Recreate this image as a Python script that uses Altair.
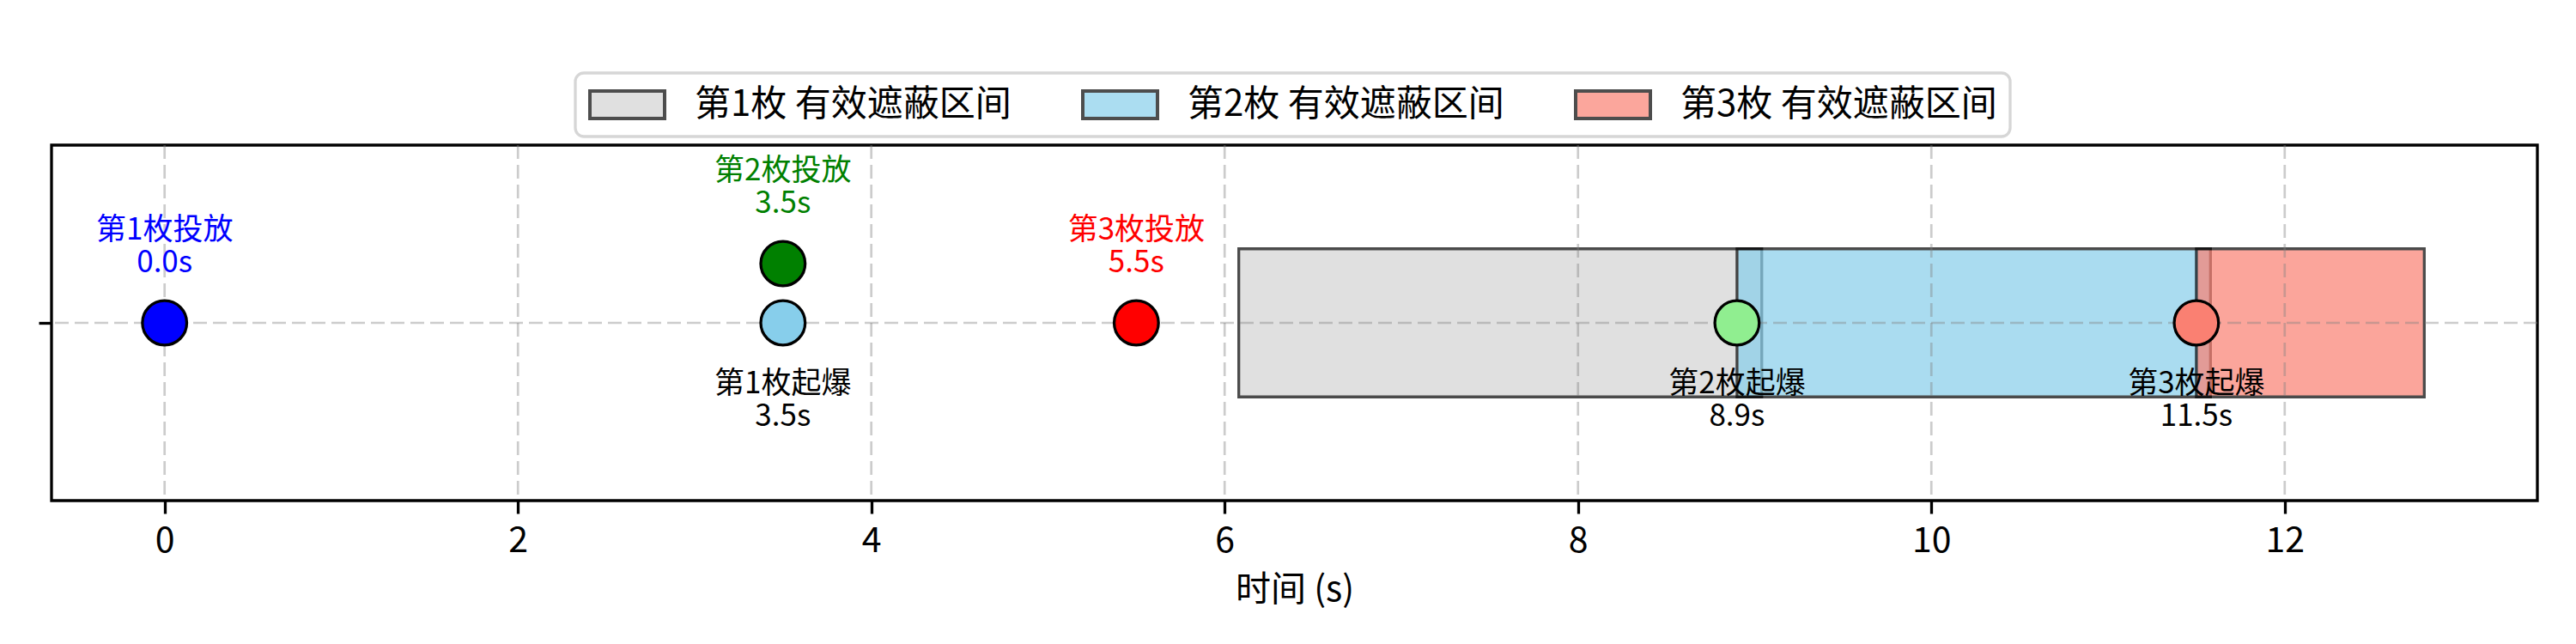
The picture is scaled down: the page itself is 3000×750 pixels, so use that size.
import altair as alt
import pandas as pd

FONT = "Noto Sans CJK SC"

# ---- data ----
bomb_names = ["第1枚", "第2枚", "第3枚"]
release_times = [0.0, 3.5, 5.5]
release_levels = [0.0, 0.2, 0.0]
release_colors = ["blue", "green", "red"]
detonate_times = [3.5, 8.9, 11.5]
detonate_levels = [0.0, 0.0, 0.0]
detonate_colors = ["skyblue", "lightgreen", "salmon"]
cover_start = [6.08, 8.90, 11.50]
cover_end = [9.04, 11.58, 12.79]
cover_low = [-0.25, -0.25, -0.25]
cover_high = [0.25, 0.25, 0.25]
cover_colors = ["lightgray", "skyblue", "salmon"]
# the same colours as they appear at 70 % opacity on white (legend swatches)
legend_swatch_colors = ["#e0e0e0", "#abddf1", "#fba69c"]
x_ticks = [0, 2, 4, 6, 8, 10, 12]
y_ticks = [0]
x_domain = [-0.64, 13.43]
y_domain = [-0.6, 0.6]
x_title = "时间 (s)"

# ---- tables ----
cover_labels = [f"{n} 有效遮蔽区间" for n in bomb_names]
bars_df = pd.DataFrame({
    "label": cover_labels, "start": cover_start, "end": cover_end,
    "low": cover_low, "high": cover_high, "c": cover_colors,
})
rel_df = pd.DataFrame({
    "t": release_times, "lvl": release_levels, "c": release_colors,
    "txt": [f"{n}投放\n{t:.1f}s" for n, t in zip(bomb_names, release_times)],
})
det_df = pd.DataFrame({
    "t": detonate_times, "lvl": detonate_levels, "c": detonate_colors,
    "txt": [f"{n}起爆\n{t:.1f}s" for n, t in zip(bomb_names, detonate_times)],
})
xgrid_df = pd.DataFrame({"t": x_ticks})
ygrid_df = pd.DataFrame({"lvl": y_ticks})

xs = alt.Scale(domain=x_domain, nice=False, zero=False)
ys = alt.Scale(domain=y_domain, nice=False, zero=False)

x_axis = alt.Axis(
    values=x_ticks, format="d", grid=False, domain=False,
    tickColor="black", tickWidth=3.3, tickSize=15,
    labelFont=FONT, labelFontSize=41, labelColor="black",
    labelBaseline="alphabetic", labelPadding=44, labelFlush=False,
    title=x_title, titleFont=FONT, titleFontSize=41, titleFontWeight="normal",
    titleColor="black", titleBaseline="alphabetic", titleY=116,
)
y_axis = alt.Axis(
    values=y_ticks, labels=False, grid=False, domain=False,
    tickColor="black", tickWidth=3.3, tickSize=15, title=None,
)


def X(field):
    return alt.X(f"{field}:Q", scale=xs, axis=x_axis)


def Y(field):
    return alt.Y(f"{field}:Q", scale=ys, axis=y_axis)


legend = alt.Legend(
    title=None, orient="none", legendX=610, legendY=-84,
    direction="horizontal", columns=3,
    symbolType="M-1,-0.368H1V0.368H-1Z", symbolSize=7569,
    symbolStrokeColor="#4d4d4d", symbolStrokeWidth=4,
    labelFont=FONT, labelFontSize=42, labelColor="black", labelLimit=1000,
    labelOffset=33, columnPadding=81, padding=15, clipHeight=44,
    strokeColor="#d6d6d6", cornerRadius=10, fillColor="white",
)

# zero-width rects: they draw nothing, they only carry the legend
legend_src = alt.Chart(bars_df).mark_rect().encode(
    x=X("start"), x2="start:Q", y=Y("low"), y2="high:Q",
    fill=alt.Fill("label:N",
                  scale=alt.Scale(domain=cover_labels, range=legend_swatch_colors),
                  legend=legend),
)

bars = alt.Chart(bars_df).mark_rect(
    opacity=0.7, stroke="black", strokeWidth=3.3
).encode(
    x=X("start"), x2="end:Q", y=Y("low"), y2="high:Q",
    color=alt.Color("c:N", scale=None),
)

grid_style = dict(color="gray", opacity=0.4, strokeWidth=2.7, strokeDash=[16, 7])
vgrid = alt.Chart(xgrid_df).mark_rule(**grid_style).encode(x=X("t"))
hgrid = alt.Chart(ygrid_df).mark_rule(**grid_style).encode(y=Y("lvl"))

pt_style = dict(size=2670, stroke="black", strokeWidth=3.3, opacity=1)
rel_pts = alt.Chart(rel_df).mark_circle(**pt_style).encode(
    x=X("t"), y=Y("lvl"), color=alt.Color("c:N", scale=None))
det_pts = alt.Chart(det_df).mark_circle(**pt_style).encode(
    x=X("t"), y=Y("lvl"), color=alt.Color("c:N", scale=None))

txt_style = dict(font=FONT, fontSize=35, lineBreak="\n", lineHeight=38,
                 baseline="alphabetic", align="center")
rel_txt = alt.Chart(rel_df).mark_text(dy=-97, **txt_style).encode(
    x=X("t"), y=Y("lvl"), text="txt:N", color=alt.Color("c:N", scale=None))
det_txt = alt.Chart(det_df).mark_text(dy=82, color="black", **txt_style).encode(
    x=X("t"), y=Y("lvl"), text="txt:N")

chart = alt.layer(legend_src, bars, vgrid, hgrid, rel_pts, det_pts, rel_txt, det_txt).properties(
    width=2895, height=414,
    padding={"left": 52, "top": 161, "right": 30, "bottom": 150},
    autosize=alt.AutoSizeParams(type="none"),
    background="white",
).configure_view(
    stroke="black", strokeWidth=3.3
).configure_legend(strokeWidth=3.3)

chart.save("out.html", embed_options={"renderer": "svg", "actions": False})
